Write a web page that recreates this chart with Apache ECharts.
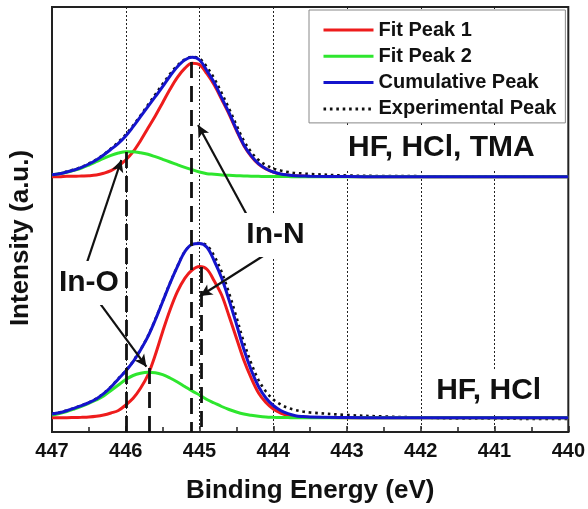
<!DOCTYPE html>
<html>
<head>
<meta charset="utf-8">
<script src="https://cdn.jsdelivr.net/npm/echarts@6/dist/echarts.min.js"></script>
<style>
html,body{margin:0;padding:0;background:#fff;}
#chart{width:588px;height:509px;}
</style>
</head>
<body>
<div id="chart"></div>
<script>
// Binding energy (eV) sample positions
const energies = [447.0,446.9,446.8,446.7,446.6,446.5,446.4,446.3,446.2,446.1,
  446.0,445.9,445.8,445.7,445.6,445.5,445.4,445.3,445.2,445.1,
  445.0,444.9,444.8,444.7,444.6,444.5,444.4,444.3,444.2,444.1,
  444.0,443.9,443.8,443.7,443.6,443.5,
  443.0,442.5,442.0,441.5,441.0,440.5,440.0];

// Top spectrum (HF, HCl, TMA), arbitrary intensity units (offset)
const redTop = [255.3,255.3,255.7,255.7,256,256.3,257,258.7,261.3,266,
  272,280.3,291.3,303.7,316,329.3,342.7,354.7,363.7,368.7,
  367.3,358.3,346.9,332.6,317.9,301.7,286.6,275.8,267.9,263.1,
  259.8,257.8,256.9,256.2,255.9,255.6,
  255.4,255.3,255.3,255.3,255.3,255.3,255.3];
const greenTop = [257.3,258.3,259.7,261.7,264,267,270.3,273.7,276.7,279,
  280.3,280.3,279.3,277.7,275.3,272.7,270,267.3,264.7,262.3,
  260,258.3,257.7,257,256.7,256.3,256,255.8,255.7,255.5,
  255.5,255.4,255.4,255.3,255.3,255.3,
  255.3,255.3,255.3,255.3,255.3,255.3,255.3];
const blueTop = [257.3,258.3,260,262,264.7,268,272,277,282.7,288.7,
  296,305.3,315.3,325.3,335.3,345.3,356,365.3,372,374.7,
  372,361.3,349.3,334.3,319.3,302.7,287.3,276.3,268.3,263.3,
  260,258,257,256.3,256,255.7,
  255.5,255.3,255.3,255.3,255.3,255.3,255.3];
const expTop = [257.5,258.5,260.5,262.5,265,268.5,272.5,277.5,283.5,290,
  297.5,306.5,316.5,327,337.5,348,358,366.5,372.5,375,
  373.5,365,353.5,339,323.5,307,291.5,280,272,267,
  263.5,261.5,260,259,258.5,258,
  256.5,256,255.8,255.5,255.6,255.4,255.5];

// Bottom spectrum (HF, HCl)
const redBottom = [14.3,14.3,14.3,14.5,14.7,15,15.7,17,19,21.5,
  27,33.7,43.7,57,77,100.3,122,140.3,153.7,162,
  165.5,162.7,151,137,116,94,72,54,39,29.5,
  23,19,16.7,15.5,14.9,14.6,
  14.3,14.3,14.3,14.3,14.3,14.3,14.3];
const greenBottom = [17,18.5,20.5,23,25.7,28.7,32,36,41.5,47,
  52.5,56.5,58.7,59.7,59.3,57.3,54,50,45.5,41,
  37,32.5,29,25.5,22.5,20,18,16.7,15.7,15,
  14.7,14.5,14.4,14.3,14.3,14.3,
  14.3,14.3,14.3,14.3,14.3,14.3,14.3];
const blueBottom = [18,19.3,21.3,23.7,26.3,29.3,33,38.3,45,53,
  61,70.3,82,95.3,112,130.3,148.7,165.3,180.3,187.7,
  188.5,184.7,171,154,132,108,83,62,45.5,34,
  26.5,21.5,18.3,16.3,15.4,14.9,
  14.5,14.3,14.3,14.3,14.3,14.3,14.3];
const expBottom = [18.3,19.6,21.6,24,26.6,29.6,33.4,38.7,45.4,53.4,
  61.4,70.8,82.5,95.8,112.5,130.8,149,165.8,180.5,187.5,
  189,186.5,176,160,139,115,90,69,52,40.5,
  32.5,27.5,24,22,20.5,19.5,
  17,15.5,14.5,13.5,13.5,13,13];

// Axis ticks
const xTicks = [440, 447];

// Annotations
const guideEnergies = [446.0, 445.11, 445.68, 444.98];
const guideTops = [280, 370, 64, 165];
const labelTexts = ['In-O', 'In-N', 'HF, HCl, TMA', 'HF, HCl'];
const labelEnergies = [446.5, 443.97, 441.72, 441.08];
const labelValues = [149, 197, 284.5, 41];
const arrowFrom = [[446.53, 168.7], [446.35, 128.7], [444.35, 216], [444.08, 178.7]];
const arrowTo = [[446.06, 272], [445.72, 65.3], [445.02, 307], [444.99, 136]];

const RED = '#ee1c1c', GREEN = '#2ee62e', BLUE = '#1414cc', BLACK = '#111';
const FONT = 'Liberation Sans, Arial, sans-serif';

function pairs(arr){ return energies.map((e,i)=>[e, arr[i]]); }
function curve(name, arr, color, extra){
  return Object.assign({
    name: name, type: 'line', data: pairs(arr), smooth: 0.35,
    symbol: 'none', showSymbol: false, color: color,
    lineStyle: {color: color, width: 3}, animation: false
  }, extra || {});
}
const dotStyle = {color: BLACK, width: 2.6, type: [2.6, 3.8]};

const chart = echarts.init(document.getElementById('chart'), null, {renderer: 'canvas'});
chart.setOption({
  animation: false,
  grid: {left: 52, right: 18, top: 7, bottom: 77, show: true, borderColor: '#222', borderWidth: 2, backgroundColor: 'transparent'},
  legend: {
    data: ['Fit Peak 1', 'Fit Peak 2', 'Cumulative Peak', 'Experimental Peak'],
    orient: 'vertical', left: 309, top: 10,
    padding: [10, 9, 4, 13], itemGap: 6.3, itemWidth: 50, itemHeight: 14,
    backgroundColor: '#fff', borderColor: '#888', borderWidth: 1, borderRadius: 0,
    itemStyle: {color: 'rgba(0,0,0,0)', borderWidth: 0, opacity: 0},
    lineStyle: {width: 3},
    textStyle: {fontFamily: FONT, fontSize: 20, fontWeight: 'bold', color: BLACK}
  },
  xAxis: {
    type: 'value', min: xTicks[0], max: xTicks[1], interval: 1, inverse: true,
    name: 'Binding Energy (eV)', nameLocation: 'middle', nameGap: 46,
    nameTextStyle: {fontFamily: FONT, fontSize: 26, fontWeight: 'bold', color: BLACK},
    axisLine: {show: true, lineStyle: {color: '#222', width: 2}},
    axisTick: {show: true, inside: true, length: 6, lineStyle: {color: '#222', width: 1.5}},
    minorTick: {show: true, splitNumber: 2, length: 5, lineStyle: {color: '#222', width: 1.5}},
    axisLabel: {margin: 9, fontFamily: FONT, fontSize: 20, fontWeight: 'bold', color: BLACK},
    splitLine: {show: true, lineStyle: {color: '#222', width: 1, type: [2, 2]}}
  },
  yAxis: {
    type: 'value', min: 0, max: 425,
    axisLine: {show: false}, axisTick: {show: false}, axisLabel: {show: false}, splitLine: {show: false}
  },
  graphic: [{
    type: 'text', x: 21, y: 238, rotation: Math.PI / 2, silent: true,
    style: {text: 'Intensity (a.u.)', fontFamily: FONT, fontSize: 26, fontWeight: 'bold', fill: BLACK, align: 'center', verticalAlign: 'middle'}
  }],
  series: [
    curve('Experimental Peak', expTop, BLACK, {lineStyle: dotStyle}),
    curve('Experimental Peak', expBottom, BLACK, {lineStyle: dotStyle}),
    curve('Fit Peak 1', redTop, RED),
    curve('Fit Peak 1', redBottom, RED),
    curve('Fit Peak 2', greenTop, GREEN),
    curve('Fit Peak 2', greenBottom, GREEN),
    curve('Cumulative Peak', blueTop, BLUE),
    curve('Cumulative Peak', blueBottom, BLUE),
    {
      type: 'line', data: [], z: 4, silent: true, animation: false,
      markPoint: {
        symbol: 'rect', symbolSize: 1, silent: true, animation: false,
        itemStyle: {color: 'rgba(0,0,0,0)'},
        label: {show: true, position: 'inside', formatter: '{b}', fontFamily: FONT, fontSize: 30, fontWeight: 'bold', color: BLACK, backgroundColor: '#fff', padding: [7, 3]},
        data: labelTexts.map((t, i) => ({name: t, coord: [labelEnergies[i], labelValues[i]]}))
      }
    },
    {
      type: 'line', data: [], z: 6, silent: true, animation: false,
      markLine: {
        symbol: ['none', 'none'], silent: true, animation: false, label: {show: false},
        lineStyle: {color: BLACK, width: 2.8, type: [16, 8]},
        data: guideEnergies.map((e, i) => [{coord: [e, guideTops[i]]}, {coord: [e, 0]}])
      }
    },
    {
      type: 'line', data: [], z: 7, silent: true, animation: false,
      markLine: {
        symbol: ['none', 'arrow'], symbolSize: [9, 12], silent: true, animation: false, label: {show: false},
        lineStyle: {color: BLACK, width: 2.2, type: 'solid'},
        data: arrowFrom.map((p, i) => [{coord: p}, {coord: arrowTo[i]}])
      }
    }
  ]
});
</script>
</body>
</html>
